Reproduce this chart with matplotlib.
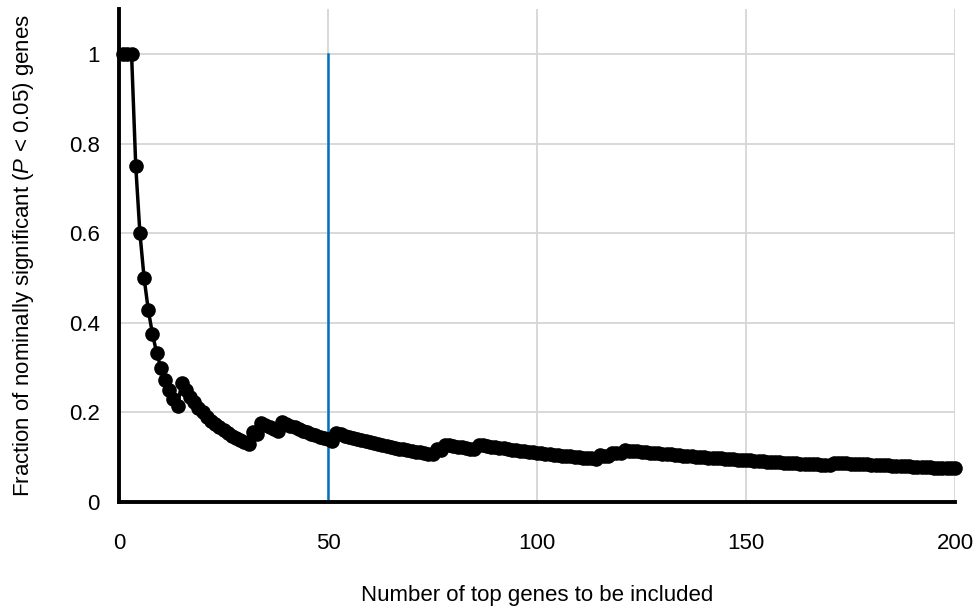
import numpy as np
import matplotlib
matplotlib.use("Agg")
import matplotlib.pyplot as plt

plt.rcParams['font.family'] = ['Liberation Sans', 'DejaVu Sans']
plt.rcParams['mathtext.fontset'] = 'custom'
plt.rcParams['mathtext.rm'] = 'Liberation Sans'
plt.rcParams['mathtext.it'] = 'Liberation Sans:italic'

# Ranks (among the top 200 genes) of the nominally significant genes
sig_ranks = [1, 2, 3, 15, 32, 34, 39, 52, 76, 78, 86, 115, 118, 121, 171]
n_top = np.arange(1, 201)
n_sig = np.array([sum(r <= n for r in sig_ranks) for n in n_top])
fraction = n_sig / n_top

cutoff = 50
x_ticks = [0, 50, 100, 150, 200]
y_ticks = [0, 0.2, 0.4, 0.6, 0.8, 1.0]
y_tick_labels = ["0", "0.2", "0.4", "0.6", "0.8", "1"]

fig = plt.figure(figsize=(9.78, 6.11), dpi=100)
ax = fig.add_axes([0.1217, 0.1784, 0.8548, 0.8066])

ax.set_xlim(0, 200)
ax.set_ylim(0, 1.1)
ax.set_xticks(x_ticks)
ax.set_yticks(y_ticks)
ax.set_yticklabels(y_tick_labels)

grid_color = '#d6d6d6'
for xv in x_ticks[1:]:
    ax.axvline(xv, color=grid_color, lw=1.3, zorder=0)
for yv in y_ticks[1:]:
    ax.axhline(yv, color=grid_color, lw=1.3, zorder=0)

ax.plot([cutoff, cutoff], [0, 1], color='#0070C0', lw=1.8, zorder=2)
ax.plot(n_top, fraction, color='black', lw=2.5, marker='o', markersize=9.5,
        markerfacecolor='black', markeredgecolor='black', zorder=3,
        clip_on=False)

for side in ['top', 'right']:
    ax.spines[side].set_visible(False)
ax.spines['left'].set_linewidth(2.8)
ax.spines['bottom'].set_linewidth(2.8)
ax.spines['left'].set_zorder(4)
ax.spines['bottom'].set_zorder(4)

ax.tick_params(axis='both', length=0, labelsize=16, colors='black')
ax.tick_params(axis='x', pad=22)
ax.tick_params(axis='y', pad=14)

ax.set_xlabel('Number of top genes to be included', fontsize=16)
ax.xaxis.set_label_coords(0.5, -0.168)
ax.set_ylabel(r'Fraction of nominally significant ($\mathit{P}$ < 0.05) genes',
              fontsize=16)
ax.yaxis.set_label_coords(-0.099, 0.5)

fig.savefig('out.png', dpi=100)
